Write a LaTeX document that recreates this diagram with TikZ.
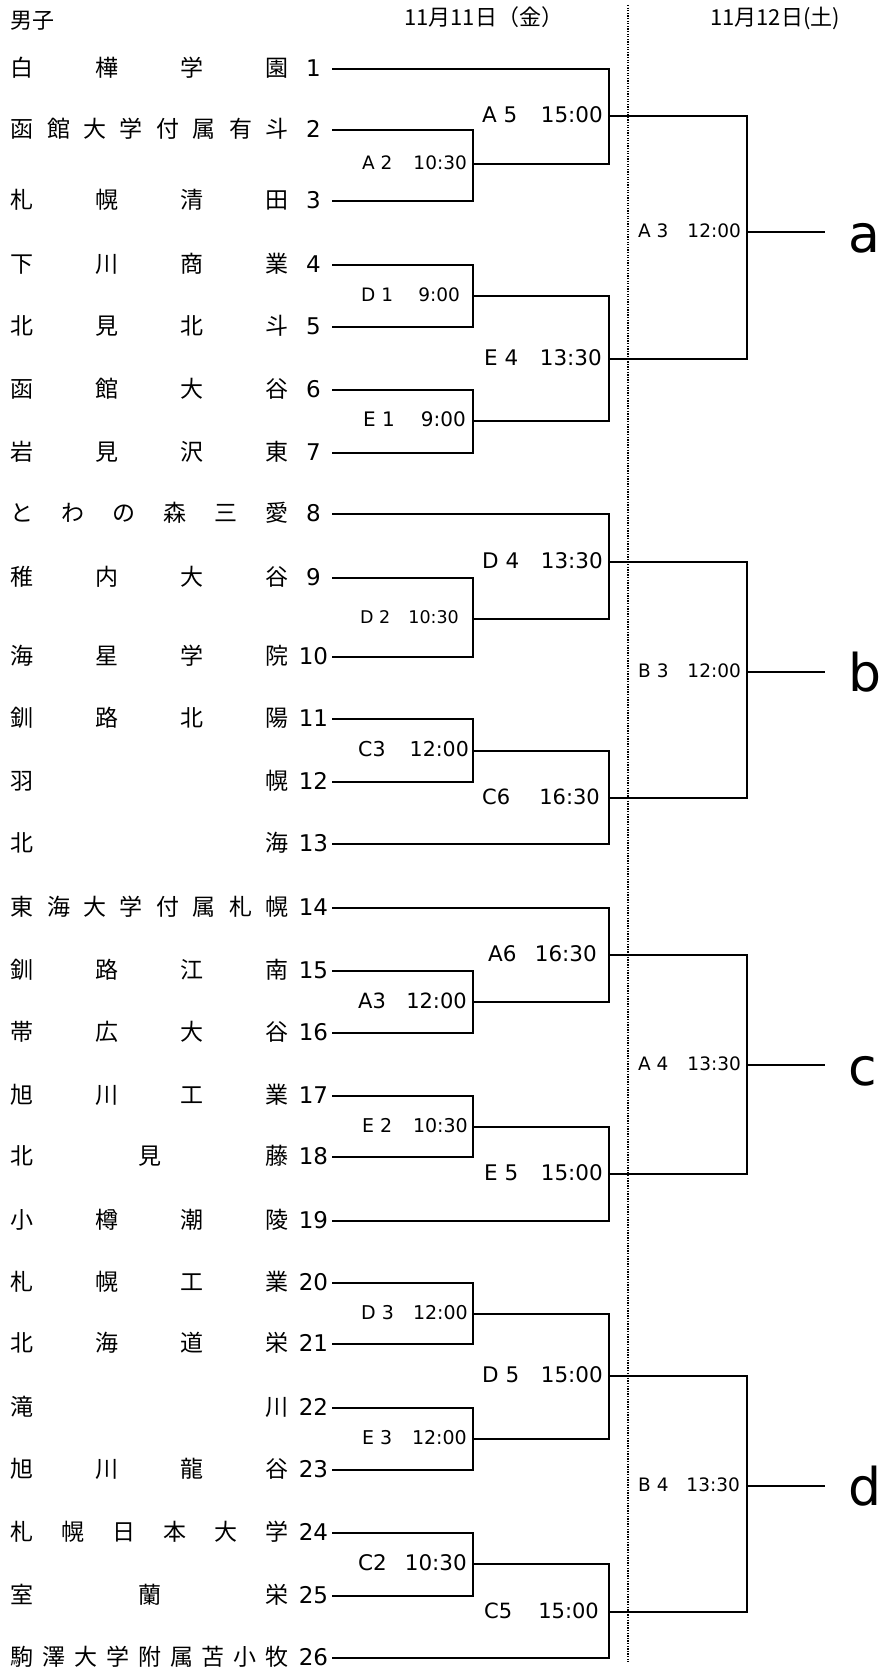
\documentclass[tikz,border=0pt]{standalone}
\usepackage{fontspec}
\setmainfont{DejaVu Sans}
\newfontfamily\jp{Noto Sans CJK JP}
\tikzset{
  br/.style={line width=2pt, line join=miter},
  teamname/.style={inner sep=0pt, anchor=base west, font=\jp\fontsize{23}{23}\selectfont},
  teamnum/.style={inner sep=0pt, anchor=base, font=\fontsize{23}{23}\selectfont},
  lbl/.style={inner sep=0pt},
  fin/.style={inner sep=0pt, anchor=base west, font=\fontsize{52}{52}\selectfont},
  hdr/.style={inner sep=0pt, anchor=base west, font=\jp\fontsize{22}{22}\selectfont},
  sepline/.style={line width=1.3pt, dash pattern=on 1.3pt off 1.3pt}
}
\newcommand{\teamrow}[3]{%
  \node[teamname] (t#1) at (10.5,{#2+7.7}) {\hbox to 278pt{#3}};
  \node[teamnum] (n#1) at (313.5,{#2+7.4}) {#1};
  \coordinate (s#1) at (332,#2);}
\newcommand{\matchlabel}[7]{%
  \node[lbl, font=\fontsize{#5}{#5}\selectfont, anchor=base west] (l#1c) at (#3,{#2+0.365*#5-1.5}) {#6};
  \node[lbl, font=\fontsize{#5}{#5}\selectfont, anchor=base east] (l#1t) at (#4,{#2+0.365*#5-1.5}) {#7};}
\begin{document}
\begin{tikzpicture}[x=1pt,y=-1pt]
\useasboundingbox (0,0) rectangle (878,1667);
% headers
\node[hdr] (hboys) at (10,29) {男子};
\node[hdr] (hday1) at (404,26) {11月11日（金）};
\node[hdr] (hday2) at (710,26) {11月12日(土)};
% teams
\teamrow{1}{69}{白\hfil 樺\hfil 学\hfil 園}
\teamrow{2}{130}{函\hfil 館\hfil 大\hfil 学\hfil 付\hfil 属\hfil 有\hfil 斗}
\teamrow{3}{201}{札\hfil 幌\hfil 清\hfil 田}
\teamrow{4}{265}{下\hfil 川\hfil 商\hfil 業}
\teamrow{5}{327}{北\hfil 見\hfil 北\hfil 斗}
\teamrow{6}{390}{函\hfil 館\hfil 大\hfil 谷}
\teamrow{7}{453}{岩\hfil 見\hfil 沢\hfil 東}
\teamrow{8}{514}{と\hfil わ\hfil の\hfil 森\hfil 三\hfil 愛}
\teamrow{9}{578}{稚\hfil 内\hfil 大\hfil 谷}
\teamrow{10}{657}{海\hfil 星\hfil 学\hfil 院}
\teamrow{11}{719}{釧\hfil 路\hfil 北\hfil 陽}
\teamrow{12}{782}{羽\hfil 幌}
\teamrow{13}{844}{北\hfil 海}
\teamrow{14}{908}{東\hfil 海\hfil 大\hfil 学\hfil 付\hfil 属\hfil 札\hfil 幌}
\teamrow{15}{971}{釧\hfil 路\hfil 江\hfil 南}
\teamrow{16}{1033}{帯\hfil 広\hfil 大\hfil 谷}
\teamrow{17}{1096}{旭\hfil 川\hfil 工\hfil 業}
\teamrow{18}{1157}{北\hfil 見\hfil 藤}
\teamrow{19}{1221}{小\hfil 樽\hfil 潮\hfil 陵}
\teamrow{20}{1283}{札\hfil 幌\hfil 工\hfil 業}
\teamrow{21}{1344}{北\hfil 海\hfil 道\hfil 栄}
\teamrow{22}{1408}{滝\hfil 川}
\teamrow{23}{1470}{旭\hfil 川\hfil 龍\hfil 谷}
\teamrow{24}{1533}{札\hfil 幌\hfil 日\hfil 本\hfil 大\hfil 学}
\teamrow{25}{1596}{室\hfil 蘭\hfil 栄}
\teamrow{26}{1658}{駒\hfil 澤\hfil 大\hfil 学\hfil 附\hfil 属\hfil 苫\hfil 小\hfil 牧}
% joints
\coordinate (mA2) at (473,164);
\coordinate (mD1) at (473,296);
\coordinate (mE1) at (473,421);
\coordinate (mD2) at (473,619);
\coordinate (mC3) at (473,751);
\coordinate (mA3) at (473,1002);
\coordinate (mE2) at (473,1127);
\coordinate (mD3) at (473,1314);
\coordinate (mE3) at (473,1439);
\coordinate (mC2) at (473,1564);
\coordinate (mA5) at (609,116);
\coordinate (mE4) at (609,359);
\coordinate (mD4) at (609,562);
\coordinate (mC6) at (609,798);
\coordinate (mA6) at (609,955);
\coordinate (mE5) at (609,1174);
\coordinate (mD5) at (609,1376);
\coordinate (mC5) at (609,1612);
\coordinate (fa) at (747,232);
\coordinate (fb) at (747,672);
\coordinate (fc) at (747,1065);
\coordinate (fd) at (747,1486);
\coordinate (ea) at (825,232);
\coordinate (eb) at (825,672);
\coordinate (ec) at (825,1065);
\coordinate (ed) at (825,1486);
% dotted day separator
\coordinate (dtop) at (628,5);
\coordinate (dbot) at (628,1662);
\draw[sepline] (dtop) -- (dbot);
% round 1
\draw[br] (s2) -| (mA2) |- (s3);
\draw[br] (s4) -| (mD1) |- (s5);
\draw[br] (s6) -| (mE1) |- (s7);
\draw[br] (s9) -| (mD2) |- (s10);
\draw[br] (s11) -| (mC3) |- (s12);
\draw[br] (s15) -| (mA3) |- (s16);
\draw[br] (s17) -| (mE2) |- (s18);
\draw[br] (s20) -| (mD3) |- (s21);
\draw[br] (s22) -| (mE3) |- (s23);
\draw[br] (s24) -| (mC2) |- (s25);
% round 2
\draw[br] (s1) -| (mA5) |- (mA2);
\draw[br] (mD1) -| (mE4) |- (mE1);
\draw[br] (s8) -| (mD4) |- (mD2);
\draw[br] (mC3) -| (mC6) |- (s13);
\draw[br] (s14) -| (mA6) |- (mA3);
\draw[br] (mE2) -| (mE5) |- (s19);
\draw[br] (mD3) -| (mD5) |- (mE3);
\draw[br] (mC2) -| (mC5) |- (s26);
% round 3
\draw[br] (mA5) -| (fa) |- (mE4);
\draw[br] (mD4) -| (fb) |- (mC6);
\draw[br] (mA6) -| (fc) |- (mE5);
\draw[br] (mD5) -| (fd) |- (mC5);
\draw[br] (fa) -- (ea);
\draw[br] (fb) -- (eb);
\draw[br] (fc) -- (ec);
\draw[br] (fd) -- (ed);
% match labels
\matchlabel{A2}{164}{362}{467}{18.5}{A 2}{10:30}
\matchlabel{D1}{296}{361}{460}{18.5}{D 1}{9:00}
\matchlabel{E1}{421}{363}{466}{20}{E 1}{9:00}
\matchlabel{D2}{619}{360}{459}{17.5}{D 2}{10:30}
\matchlabel{C3}{751}{358}{469}{20.5}{C3}{12:00}
\matchlabel{A3}{1002}{358}{467}{21}{A3}{12:00}
\matchlabel{E2}{1127}{362}{468}{19}{E 2}{10:30}
\matchlabel{D3}{1314}{361}{468}{19}{D 3}{12:00}
\matchlabel{E3}{1439}{362}{467}{19}{E 3}{12:00}
\matchlabel{C2}{1564}{358}{467}{21.5}{C2}{10:30}
\matchlabel{A5}{116}{482}{603}{21.5}{A 5}{15:00}
\matchlabel{E4}{359}{484}{602}{21.5}{E 4}{13:30}
\matchlabel{D4}{562}{482}{603}{21.5}{D 4}{13:30}
\matchlabel{C6}{798}{482}{600}{21}{C6}{16:30}
\matchlabel{A6}{955}{488}{597}{21.5}{A6}{16:30}
\matchlabel{E5}{1174}{484}{603}{21.5}{E 5}{15:00}
\matchlabel{D5}{1376}{482}{603}{21.5}{D 5}{15:00}
\matchlabel{C5}{1612}{484}{599}{21}{C5}{15:00}
\matchlabel{fa}{232}{638}{741}{18.5}{A 3}{12:00}
\matchlabel{fb}{672}{638}{741}{18.5}{B 3}{12:00}
\matchlabel{fc}{1065}{638}{741}{18.5}{A 4}{13:30}
\matchlabel{fd}{1486}{638}{740}{18.5}{B 4}{13:30}
% final letters
\node[fin] (La) at (848,252) {a};
\node[fin] (Lb) at (848,691) {b};
\node[fin] (Lc) at (848,1085) {c};
\node[fin] (Ld) at (848,1505) {d};
\end{tikzpicture}
\end{document}
